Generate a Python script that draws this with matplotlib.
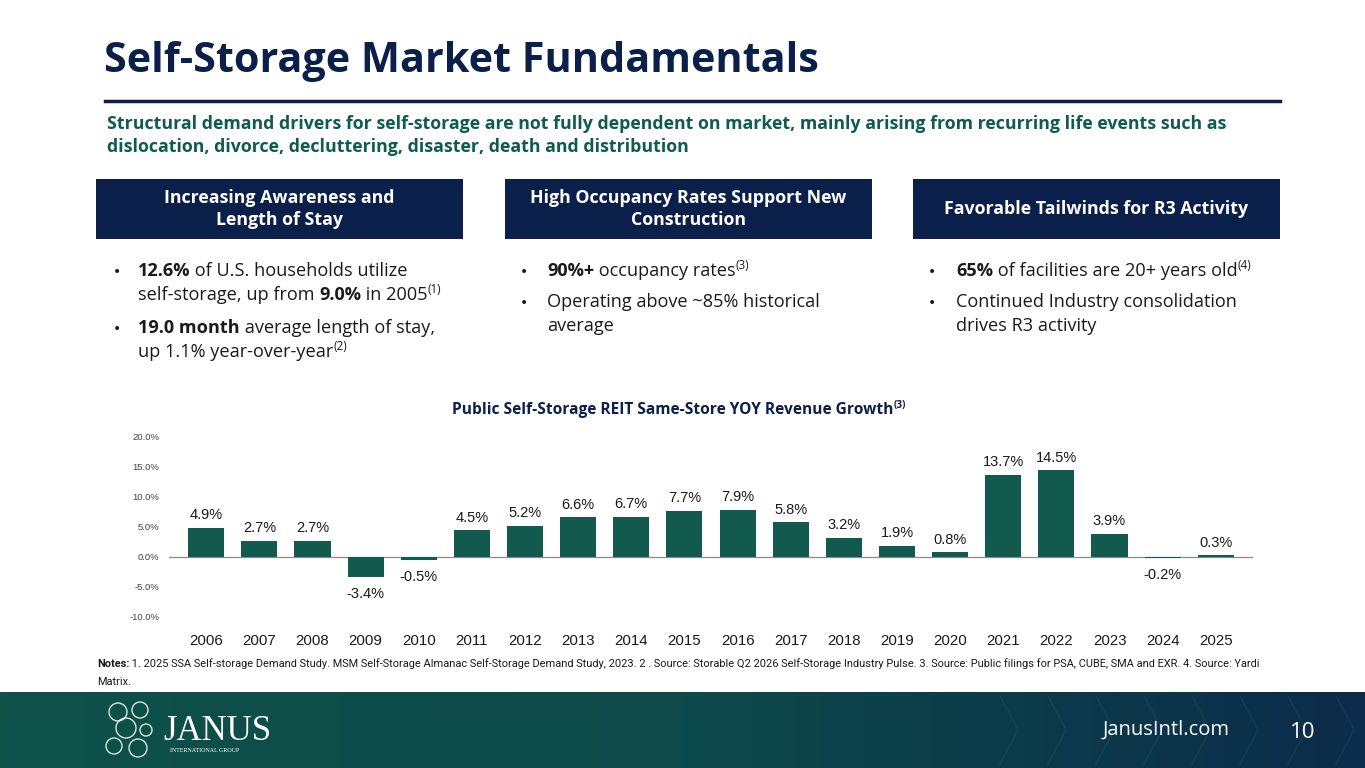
import matplotlib.pyplot as plt
import numpy as np
from matplotlib.colors import LinearSegmentedColormap
from matplotlib.patches import Rectangle

# chart data
years = [str(y) for y in range(2006, 2026)]
growth = [4.9, 2.7, 2.7, -3.4, -0.5, 4.5, 5.2, 6.6, 6.7, 7.7,
          7.9, 5.8, 3.2, 1.9, 0.8, 13.7, 14.5, 3.9, -0.2, 0.3]
y_ticks = [-10, -5, 0, 5, 10, 15, 20]

title = "Self-Storage Market Fundamentals"
subtitle = ["Structural demand drivers for self-storage are not fully dependent on market, mainly arising from recurring life events such as",
            "dislocation, divorce, decluttering, disaster, death and distribution"]
headers = ["Increasing Awareness and\nLength of Stay",
           "High Occupancy Rates Support New\nConstruction",
           "Favorable Tailwinds for R3 Activity"]

NAVY = "#0b1f4b"
GREEN = "#0f5c4d"
BAR = "#135a4e"
FONT = "Open Sans"

fig = plt.figure(figsize=(13.65, 7.68), dpi=100)
renderer = fig.canvas.get_renderer()

bg = fig.add_axes([0, 0, 1, 1])
bg.set_xlim(0, 1365)
bg.set_ylim(768, 0)
bg.axis("off")


def rich(x, y, parts, size=13.1, color="#1a1a1a", family=FONT):
    # parts: (text, bold, superscript)
    for txt, bold, sup in parts:
        fs = size * 0.64 if sup else size
        yy = y - size * 0.55 if sup else y
        t = bg.text(x, yy, txt, fontsize=fs, fontfamily=family, color=color,
                    fontweight="bold" if bold else "normal", va="baseline", ha="left")
        x += t.get_window_extent(renderer).width


# title + rule
bg.text(104, 61, title, fontsize=29.8, fontweight="bold", color=NAVY,
        fontfamily=FONT, va="center", ha="left")
bg.plot([105, 1280], [101, 101], color=NAVY, lw=2.5)
for i, line in enumerate(subtitle):
    bg.text(107, 124 + i * 23.5, line, fontsize=12.75, fontweight="bold", color=GREEN,
            fontfamily=FONT, va="center", ha="left")

# header boxes
box_x = [96, 505, 913]
for bx, h in zip(box_x, headers):
    bg.add_patch(Rectangle((bx, 179), 367, 60, color=NAVY, lw=0))
    bg.text(bx + 183.5, 209, h, fontsize=12.8, fontweight="bold", color="white",
            fontfamily=FONT, va="center", ha="center", linespacing=1.25)

# bullets
def bullet(bx, y):
    bg.text(bx, y, "\u2022", fontsize=10, color="#1a1a1a", va="baseline", ha="left")

bullet(113, 276)
rich(138, 276, [("12.6%", True, False), (" of U.S. households utilize", False, False)])
rich(138, 300, [("self-storage, up from ", False, False), ("9.0%", True, False),
                (" in 2005", False, False), ("(1)", False, True)])
bullet(113, 333)
rich(138, 333, [("19.0 month", True, False), (" average length of stay,", False, False)])
rich(138, 357, [("up 1.1% year-over-year", False, False), ("(2)", False, True)])

bullet(520, 276)
rich(547, 276, [("90%+", True, False), (" occupancy rates", False, False), ("(3)", False, True)])
bullet(520, 307)
rich(547, 307, [("Operating above ~85% historical", False, False)])
rich(547, 331, [("average", False, False)])

bullet(928, 276)
rich(956, 276, [("65%", True, False), (" of facilities are 20+ years old", False, False), ("(4)", False, True)])
bullet(928, 307)
rich(956, 307, [("Continued Industry consolidation", False, False)])
rich(956, 331, [("drives R3 activity", False, False)])

# chart title
rich(452, 414, [("Public Self-Storage REIT Same-Store YOY Revenue Growth", True, False),
                ("(3)", True, True)], size=11.2, color=NAVY)

# bar chart
ax = fig.add_axes([169 / 1365, (768 - 617) / 768, 1084 / 1365, 180 / 768])
x = np.arange(len(years))
ax.bar(x, growth, width=0.68, color=BAR, zorder=2)
ax.axhline(0, color="#8c8c8c", lw=0.9, zorder=1)
ax.set_xlim(-0.7, len(years) - 0.3)
ax.set_ylim(-10, 20)
ax.set_yticks(y_ticks)
ax.set_yticklabels([f"{v:.1f}%" for v in y_ticks], fontsize=6.8, color="#404040",
                   fontfamily="Liberation Sans")
ax.set_xticks(x)
ax.set_xticklabels(years, fontsize=10.8, color="#1a1a1a", fontfamily="Liberation Sans")
ax.tick_params(axis="both", length=0)
ax.tick_params(axis="x", pad=12)
ax.tick_params(axis="y", pad=7)
for s in ax.spines.values():
    s.set_visible(False)
ax.patch.set_alpha(0)
for xi, v in zip(x, growth):
    off = 9 if v >= 0 else -12
    ax.annotate(f"{v:.1f}%", (xi, v), xytext=(0, off), textcoords="offset points",
                ha="center", va="center", fontsize=10.5, color="#1a1a1a",
                fontfamily="Liberation Sans")

# notes
rich(97, 667, [("Notes:", True, False),
               (" 1. 2025 SSA Self-storage Demand Study. MSM Self-Storage Almanac Self-Storage Demand Study, 2023. 2 . Source: Storable Q2 2026 Self-Storage Industry Pulse. 3. Source: Public filings for PSA, CUBE, SMA and EXR. 4. Source: Yardi", False, False)],
     size=7.9, family="Roboto")
rich(97, 685, [("Matrix.", False, False)], size=7.9, family="Roboto")

# footer band
cmap = LinearSegmentedColormap.from_list("foot", ["#0e5248", "#0d4a4a", "#0b2c4a"])
grad = np.tile(np.linspace(0, 1, 400), (10, 1))
bg.imshow(grad, cmap=cmap, extent=[0, 1365, 768, 692], aspect="auto", zorder=0)
bg.set_xlim(0, 1365)
bg.set_ylim(768, 0)
for k in range(8):
    cx = 1000 + k * 48
    bg.plot([cx, cx + 18, cx], [696, 730, 764], color="white", alpha=0.045, lw=1.2)

bg.text(163, 731, "JANUS", fontsize=25, color="white", fontfamily="Liberation Serif",
        va="center", ha="left")
bg.text(170, 750, "INTERNATIONAL GROUP", fontsize=4.3, color="white",
        fontfamily="Liberation Serif", va="center", ha="left")
for cx, cy, r in [(118, 712, 9), (140, 710, 8), (126, 728, 10), (114, 746, 8), (138, 748, 9), (146, 730, 6)]:
    bg.add_patch(plt.Circle((cx, cy), r, fill=False, ec="white", lw=1.0, alpha=0.85))

bg.text(1230, 730, "JanusIntl.com", fontsize=14.5, color="white", fontfamily=FONT,
        va="center", ha="right")
bg.text(1303, 733, "10", fontsize=16, color="white", fontfamily=FONT,
        va="center", ha="center")

fig.savefig("out.png", dpi=100)
